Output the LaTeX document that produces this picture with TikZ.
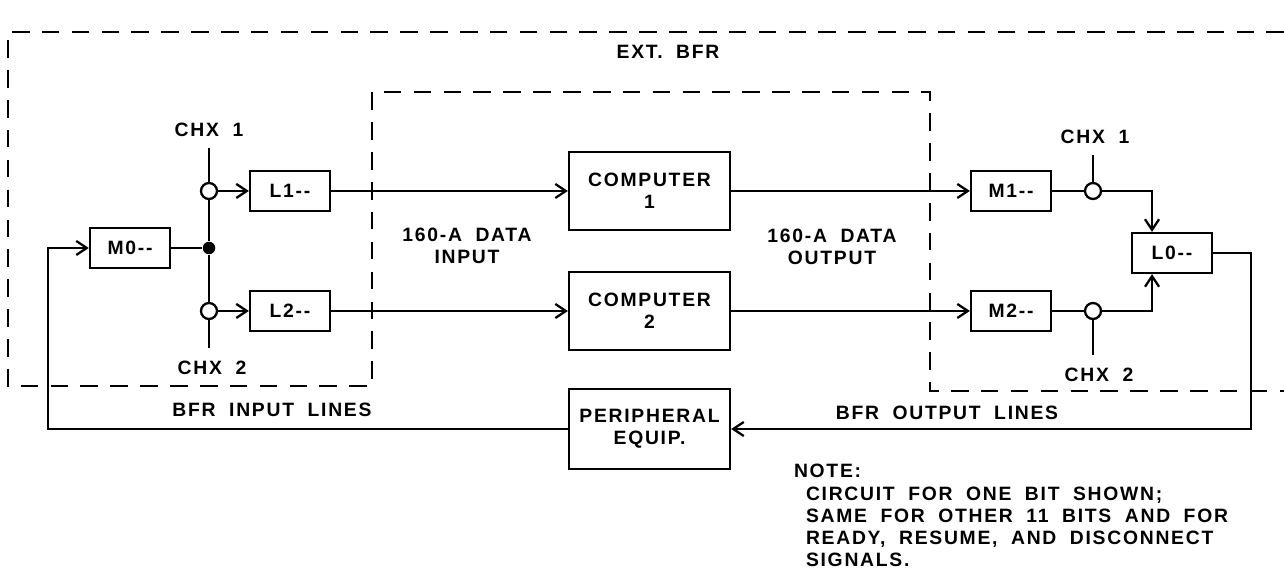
\documentclass[tikz,border=0pt]{standalone}
\usepackage{fontspec}
\setmainfont{Liberation Sans}[LetterSpace=9, WordSpace=1.9]
\usetikzlibrary{calc, arrows.meta}

\begin{document}
\begin{tikzpicture}[x=0.02cm, y=-0.02cm, line width=1.3pt,
        font=\fontsize{11}{12.5}\selectfont\bfseries,
        >={Straight Barb[length=6pt, width=8pt, line width=1.3pt]},
        box/.style={draw, minimum width=1.6cm, minimum height=0.8cm, inner sep=0pt},
        bigbox/.style={draw, minimum width=3.22cm, minimum height=1.56cm, inner sep=0pt, align=center},
        sw/.style={draw, circle, fill=white, minimum size=0.32cm, inner sep=0pt}]
                \useasboundingbox (0,0) rectangle (1284,573);
                % ext. bfr boundary
                \draw[dash pattern=on 10pt off 7pt] (1284,32)--(8,32)--(8,386)--(372,386)--(372,92)--(930,92)--(930,391)--(1284,391);
                \node (extbfr) at (668,52) {EXT. BFR};
                % input side
                \node[box] (m0) at (130,248) {M0-{}-};
                \node[fill, circle, inner sep=0pt, minimum size=0.25cm] (jdot) at (209,248) {};
                \node[sw] (jc1) at (209,191) {};
                \node[sw] (jc2) at (209,311) {};
                \node[box] (l1) at (290,191) {L1-{}-};
                \node[box] (l2) at (290,311) {L2-{}-};
                \coordinate (chx1a) at (209,148);
                \coordinate (chx2a) at (209,348);
                \node (lchx1) at (209,130) {CHX 1};
                \node (lchx2) at (212,368) {CHX 2};
                \draw (chx1a)--(jc1)--(jdot)--(jc2)--(chx2a);
                \draw (m0)--(jdot);
                \draw[->] (jc1)--(l1);
                \draw[->] (jc2)--(l2);
                % computers
                \node[bigbox] (comp1) at (649.5,191) {COMPUTER\\1};
                \node[bigbox] (comp2) at (649.5,311) {COMPUTER\\2};
                \node[bigbox, minimum height=1.6cm] (peri) at (649.5,429) {PERIPHERAL\\EQUIP.};
                \node[align=center] (datain) at (467,246) {160-A DATA\\INPUT};
                \node[align=center] (dataout) at (832,247) {160-A DATA\\OUTPUT};
                \draw[->] (l1)--(comp1);
                \draw[->] (l2)--(comp2);
                % output side
                \node[box] (m1) at (1011,191) {M1-{}-};
                \node[box] (m2) at (1011,311) {M2-{}-};
                \node[sw] (kc1) at (1093,191) {};
                \node[sw] (kc2) at (1093,311) {};
                \node[box] (l0) at (1172,253) {L0-{}-};
                \coordinate (chx1b) at (1093,155);
                \coordinate (chx2b) at (1093,355);
                \node (rchx1) at (1095,137) {CHX 1};
                \node (rchx2) at (1099,375) {CHX 2};
                \draw[->] (comp1)--(m1);
                \draw[->] (comp2)--(m2);
                \draw (m1)--(kc1);
                \draw (m2)--(kc2);
                \draw (chx1b)--(kc1);
                \draw (kc2)--(chx2b);
                \draw[->] (kc1) -| ($(l0.north)+(-20,0)$);
                \draw[->] (kc2) -| ($(l0.south)+(-20,0)$);
                % bfr lines
                \coordinate (outc) at (1251,429);
                \coordinate (inc) at (48,429);
                \draw[->] (l0) -| (outc) -- (peri);
                \draw[->] (peri) -- (inc) |- (m0);
                \node (bfrin) at (272,410) {BFR INPUT LINES};
                \node (bfrout) at (947,413) {BFR OUTPUT LINES};
                % note
                \node[anchor=west] (note) at (787,471) {NOTE:};
                \node[anchor=north west, align=left] (notetxt) at (799,480) {CIRCUIT FOR ONE BIT SHOWN;\\SAME FOR OTHER 11 BITS AND FOR\\READY, RESUME, AND DISCONNECT\\SIGNALS.};
            \end{tikzpicture}
\end{document}
